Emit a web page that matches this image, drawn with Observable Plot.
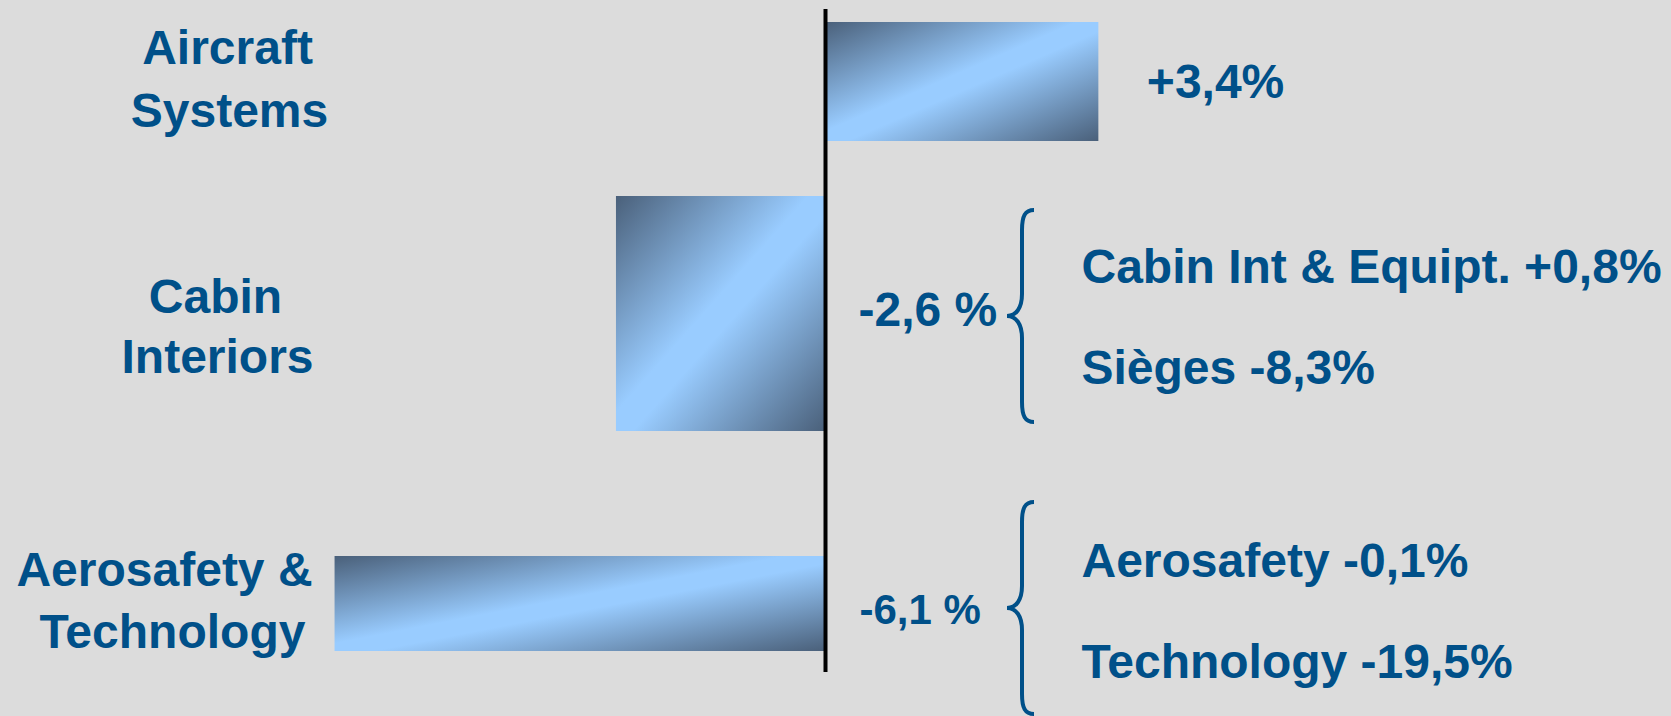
<!DOCTYPE html>
<html>
<head>
<meta charset="utf-8">
<script src="https://cdn.jsdelivr.net/npm/d3@7"></script>
<script src="https://cdn.jsdelivr.net/npm/@observablehq/plot@0.6"></script>
<style>
  html, body { margin: 0; padding: 0; background: #dcdcdc; overflow: hidden; }
  #chart svg { display: block; }
</style>
</head>
<body>
<div id="chart"></div>
<script>
// ---- data ----
const categories = ["Aircraft Systems", "Cabin Interiors", "Aerosafety & Technology"];
const categoryLabels = [["Aircraft", "Systems"], ["Cabin", "Interiors"], ["Aerosafety &", "Technology"]];
const values = [3.4, -2.6, -6.1];
const valueLabels = ["+3,4%", "-2,6 %", "-6,1 %"];
const subLabels = [[], ["Cabin Int & Equipt. +0,8%", "Sièges -8,3%"], ["Aerosafety -0,1%", "Technology -19,5%"]];

// ---- layout / style (not data) ----
const W = 1671, H = 716;
const BLUE = "#005089";
const FONT = "'Liberation Sans', Arial, Helvetica, sans-serif";
const pxPerUnit = 80.4, zeroPx = 825;
const xDomain = [-zeroPx / pxPerUnit, (W - zeroPx) / pxPerUnit];
const c0 = 81.5, c2 = 603.5, step = (c2 - c0) / 2;
const yRange = [c0 - step / 2, c2 + step / 2];
const braceX = (1007 - zeroPx) / pxPerUnit;
const toX = px => (px - zeroPx) / pxPerUnit;
const TEXT_SHIFT = 2; // compensates for Plot's 0.32em middle baseline
const layout = [
  {barDy: 0,   half: 59.5,  labelX: [227, 229], labelDy: [-35, 27.5],   valueDy: -1.5, valueDx: 48, valueSize: 48, braceDy: 0,     subDy: []},
  {barDy: -29, half: 117.5, labelX: [215, 217], labelDy: [-47.5, 12.5], valueDy: -34,  valueDx: 33, valueSize: 48, braceDy: -26.5, subDy: [-77.5, 24]},
  {barDy: 0,   half: 47.5,  labelX: [164, 172], labelDy: [-35, 26.5],   valueDy: 4.5,  valueDx: 34, valueSize: 42, braceDy: 4.5,   subDy: [-44.5, 56.5]}
];

const rows = categories.map((c, i) => ({
  category: c, lines: categoryLabels[i], value: values[i],
  valueLabel: valueLabels[i], subs: subLabels[i]
}));

const gradientDefs = () => {
  const defs = d3.create("svg:defs");
  const g = defs.append("linearGradient")
    .attr("id", "barGrad")
    .attr("gradientUnits", "objectBoundingBox")
    .attr("x1", 0).attr("y1", 0).attr("x2", 1).attr("y2", 1);
  g.append("stop").attr("offset", "0%").attr("stop-color", "#4a607a");
  g.append("stop").attr("offset", "46%").attr("stop-color", "#99ccff");
  g.append("stop").attr("offset", "54%").attr("stop-color", "#99ccff");
  g.append("stop").attr("offset", "100%").attr("stop-color", "#4a607a");
  return defs.node();
};

const braces = (index, scales) => {
  const g = d3.create("svg:g").attr("fill", "none").attr("stroke", BLUE).attr("stroke-width", 4);
  const bw = scales.y.bandwidth ? scales.y.bandwidth() : 0;
  rows.forEach((r, i) => {
    if (!r.subs.length) return;
    const tx = scales.x(braceX);
    const ty = scales.y(r.category) + bw / 2 + layout[i].braceDy;
    const h = 106, s = 15, w = 27;
    const p = d3.path();
    p.moveTo(tx + w, ty - h);
    p.bezierCurveTo(tx + s + 3, ty - h, tx + s, ty - h + 6, tx + s, ty - h + 20);
    p.lineTo(tx + s, ty - 22);
    p.bezierCurveTo(tx + s, ty - 8, tx + s - 6, ty, tx, ty);
    p.bezierCurveTo(tx + s - 6, ty, tx + s, ty + 8, tx + s, ty + 22);
    p.lineTo(tx + s, ty + h - 20);
    p.bezierCurveTo(tx + s, ty + h - 6, tx + s + 3, ty + h, tx + w, ty + h);
    g.append("path").attr("d", p.toString());
  });
  return g.node();
};

const textBase = {fill: BLUE, fontWeight: "bold", fontFamily: FONT, lineAnchor: "middle"};

const marks = [gradientDefs];
rows.forEach((r, i) => {
  const L = layout[i];
  const inset = step / 2 - L.half;
  marks.push(Plot.barX([r], {x: "value", y: "category", fill: "url(#barGrad)", insetTop: inset, insetBottom: inset, dy: L.barDy}));
});
marks.push(Plot.ruleX([0], {stroke: "black", strokeWidth: 4}));
rows.forEach((r, i) => {
  const L = layout[i];
  r.lines.forEach((line, j) => {
    marks.push(Plot.text([r], {...textBase, x: () => toX(L.labelX[j]), y: "category", text: () => line, textAnchor: "middle", fontSize: 48, dy: L.labelDy[j] + TEXT_SHIFT}));
  });
  marks.push(Plot.text([r], {...textBase, x: d => Math.max(d.value, 0), y: "category", text: "valueLabel", textAnchor: "start", fontSize: L.valueSize, dx: L.valueDx, dy: L.valueDy + TEXT_SHIFT}));
  r.subs.forEach((s, j) => {
    marks.push(Plot.text([r], {...textBase, x: () => braceX, y: "category", text: () => s, textAnchor: "start", fontSize: 48, dx: 74, dy: L.subDy[j] + TEXT_SHIFT}));
  });
});
marks.push(braces);

const chart = Plot.plot({
  width: W, height: H,
  marginLeft: 0, marginRight: 0, marginTop: 9, marginBottom: 44,
  style: {background: "#dcdcdc", fontFamily: FONT, overflow: "visible"},
  x: {domain: xDomain, range: [0, W], axis: null},
  y: {type: "band", domain: categories, range: yRange, padding: 0, axis: null},
  marks
});
document.getElementById("chart").appendChild(chart);
</script>
</body>
</html>
